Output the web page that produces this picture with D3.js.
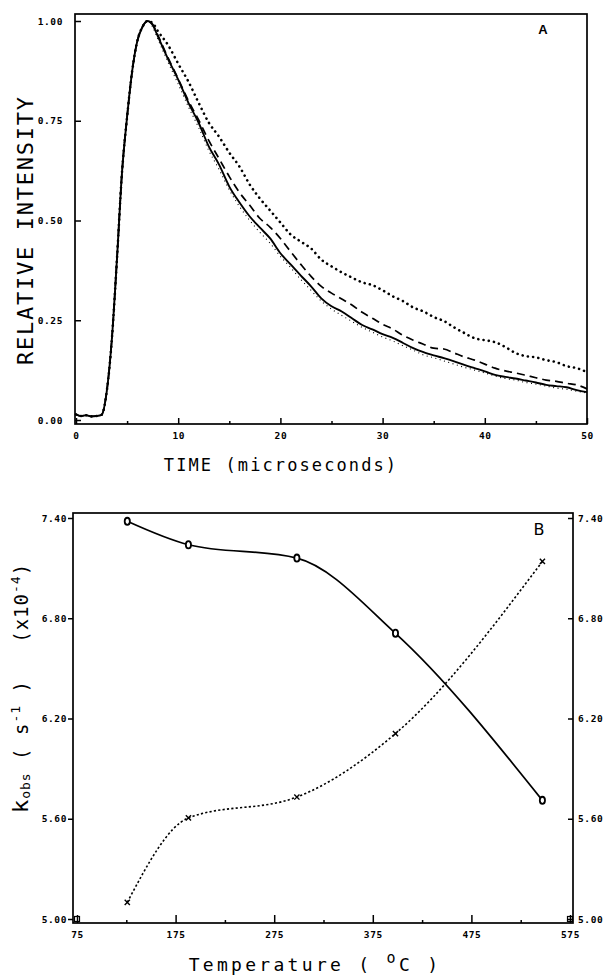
<!DOCTYPE html>
<html><head><meta charset="utf-8">
<script src="https://cdn.jsdelivr.net/npm/d3@7"></script>
<style>body{margin:0;background:#fff}svg{display:block}</style>
</head><body>
<script>
// ---------- Panel A data ----------
const timeUs = [0,0.5,1,1.5,2,2.5,3,3.5,4,4.5,5,5.5,6,6.5,7,7.5,8,
  9,10,11,12,13,14,15,16,17,18,19,20,21,22,23,24,25,26,27,28,29,30,
  31,32,33,34,35,36,37,38,39,40,41,42,43,44,45,46,47,48,49,50];
const solidIntensity = [0.014,0.010,0.012,0.009,0.010,0.013,0.070,0.200,0.400,0.620,0.760,0.875,0.950,0.985,1.000,0.990,0.962,
  0.905,0.853,0.795,0.745,0.685,0.640,0.585,0.545,0.510,0.482,0.455,0.418,0.390,0.362,0.335,0.305,0.285,0.272,0.255,0.238,0.227,0.215,
  0.206,0.193,0.180,0.170,0.162,0.155,0.147,0.138,0.130,0.122,0.113,0.108,0.104,0.099,0.094,0.088,0.085,0.082,0.075,0.070];
const dashedIntensity = [0.014,0.010,0.012,0.009,0.010,0.013,0.070,0.200,0.400,0.620,0.760,0.875,0.950,0.985,1.000,0.992,0.965,
  0.908,0.855,0.800,0.752,0.700,0.655,0.610,0.570,0.538,0.505,0.483,0.455,0.422,0.390,0.360,0.335,0.318,0.303,0.288,0.270,0.255,0.240,
  0.228,0.212,0.200,0.190,0.180,0.178,0.168,0.158,0.150,0.140,0.130,0.123,0.118,0.112,0.106,0.100,0.097,0.092,0.088,0.078];
const dottedIntensity = [0.014,0.010,0.012,0.009,0.010,0.013,0.070,0.200,0.400,0.620,0.760,0.875,0.950,0.985,1.000,0.995,0.975,
  0.940,0.893,0.848,0.795,0.745,0.710,0.670,0.635,0.590,0.555,0.525,0.495,0.465,0.447,0.430,0.402,0.385,0.370,0.357,0.345,0.338,0.325,
  0.310,0.298,0.282,0.272,0.258,0.248,0.232,0.218,0.205,0.200,0.195,0.183,0.168,0.160,0.157,0.150,0.145,0.135,0.130,0.120];
const fineDotIntensity = [0.014,0.010,0.012,0.009,0.010,0.013,0.070,0.200,0.400,0.620,0.760,0.875,0.950,0.985,1.000,0.985,0.955,
  0.897,0.842,0.785,0.733,0.675,0.628,0.577,0.535,0.500,0.470,0.443,0.410,0.382,0.352,0.325,0.298,0.278,0.262,0.247,0.232,0.220,0.208,
  0.198,0.186,0.175,0.163,0.156,0.148,0.140,0.132,0.125,0.118,0.110,0.104,0.100,0.094,0.090,0.085,0.080,0.077,0.072,0.068];
const timeTicks = [0,10,20,30,40,50];
const timeMinorTicks = [5,15,25,35,45];
const intensityTicks = [0,0.25,0.5,0.75,1.0];

// ---------- Panel B data ----------
const temperatureC = [126,188,298,398,547];
const kobsSolid = [7.38,7.24,7.16,6.71,5.71];
const kobsDotted = [5.10,5.605,5.73,6.11,7.14];
const tempTicks = [75,175,275,375,475,575];
const tempMinorTicks = [125,225,325,425,525];
const kobsTicks = [5.00,5.60,6.20,6.80,7.40];
const cornerTemps = [75,575];
const cornerKobs = [5.00,5.00];

const W = 606, H = 975;
const svg = d3.select("body").append("svg").attr("width",W).attr("height",H);
svg.append("rect").attr("width",W).attr("height",H).attr("fill","#fff");

const tickFont = "'DejaVu Sans Mono', monospace";
function styleAxis(g){
  g.select(".domain").remove();
  g.selectAll(".tick line").attr("stroke","#000").attr("stroke-width",1.5);
  g.selectAll(".tick text").attr("fill","#000").attr("font-family",tickFont)
    .attr("font-weight","bold").attr("font-size",9.5).attr("letter-spacing",0.6);
}

// ================= Panel A =================
const A = {left:75,right:587,top:14,bottom:424};
const xA = d3.scaleLinear().domain([0,50]).range([76,587]);
const yA = d3.scaleLinear().domain([0,1]).range([420,21]);

const gA = svg.append("g");
const lineA = vals => d3.line().x((d,i)=>xA(timeUs[i])).y(d=>yA(d)).curve(d3.curveMonotoneX)(vals);

gA.append("path").attr("d",lineA(fineDotIntensity)).attr("fill","none").attr("stroke","#000")
  .attr("stroke-width",1.1).attr("stroke-dasharray","1,3.5");
gA.append("path").attr("d",lineA(dottedIntensity)).attr("fill","none").attr("stroke","#000")
  .attr("stroke-width",2.6).attr("stroke-linecap","round").attr("stroke-dasharray","0.1,5.2");
gA.append("path").attr("d",lineA(dashedIntensity)).attr("fill","none").attr("stroke","#000")
  .attr("stroke-width",1.7).attr("stroke-dasharray","8,5");
gA.append("path").attr("d",lineA(solidIntensity)).attr("fill","none").attr("stroke","#000")
  .attr("stroke-width",1.9);

gA.append("rect").attr("x",A.left).attr("y",A.top).attr("width",A.right-A.left).attr("height",A.bottom-A.top)
  .attr("fill","none").attr("stroke","#000").attr("stroke-width",1.7);

gA.append("g").attr("transform",`translate(${A.left},0)`)
  .call(d3.axisLeft(yA).tickValues(intensityTicks).tickFormat(d3.format(".2f")).tickSize(-6).tickPadding(12))
  .call(styleAxis);
gA.append("g").attr("transform",`translate(0,${A.bottom})`)
  .call(d3.axisBottom(xA).tickValues(timeTicks).tickFormat(d3.format("d")).tickSize(-6).tickPadding(8))
  .call(styleAxis);
gA.append("g").attr("transform",`translate(0,${A.bottom})`)
  .call(d3.axisBottom(xA).tickValues(timeMinorTicks).tickFormat("").tickSize(-3))
  .call(styleAxis);

gA.append("text").attr("x",543).attr("y",34).attr("text-anchor","middle")
  .attr("font-family","'Liberation Sans', Arial, sans-serif").attr("font-weight","bold").attr("font-size",13).text("A");

svg.append("text").attr("transform","translate(33,231) rotate(-90)").attr("text-anchor","middle")
  .attr("font-family",tickFont).attr("font-size",22).attr("textLength",268).attr("lengthAdjust","spacing")
  .text("RELATIVE INTENSITY");
svg.append("text").attr("x",281).attr("y",471).attr("text-anchor","middle")
  .attr("font-family",tickFont).attr("font-size",17).attr("letter-spacing",2.1)
  .text("TIME (microseconds)");

// ================= Panel B =================
const B = {left:73,right:573,top:513,bottom:923};
const xB = d3.scaleLinear().domain([75,575]).range([77,570]);
const yB = d3.scaleLinear().domain([5,7.4]).range([919,518]);
const gB = svg.append("g");

const lineB = vals => d3.line().x((d,i)=>xB(temperatureC[i])).y(d=>yB(d)).curve(d3.curveMonotoneX)(vals);
gB.append("path").attr("d",lineB(kobsDotted)).attr("fill","none").attr("stroke","#000")
  .attr("stroke-width",1.6).attr("stroke-dasharray","2.2,2.2");
gB.append("path").attr("d",lineB(kobsSolid)).attr("fill","none").attr("stroke","#000")
  .attr("stroke-width",1.7);

gB.selectAll(".xm").data(kobsDotted).join("path").attr("class","xm")
  .attr("transform",(d,i)=>`translate(${xB(temperatureC[i])},${yB(d)})`)
  .attr("d","M-2.6,-2.6L2.6,2.6M-2.6,2.6L2.6,-2.6").attr("stroke","#000").attr("stroke-width",1.4);
gB.selectAll(".om").data(kobsSolid).join("ellipse").attr("class","om")
  .attr("cx",(d,i)=>xB(temperatureC[i])).attr("cy",d=>yB(d)).attr("rx",2.6).attr("ry",3.6)
  .attr("fill","#fff").attr("stroke","#000").attr("stroke-width",1.8);

gB.selectAll(".corner").data(cornerKobs).join("rect").attr("class","corner")
  .attr("x",(d,i)=>xB(cornerTemps[i])-2.5).attr("y",d=>yB(d)-2.5).attr("width",5).attr("height",5)
  .attr("fill","#fff").attr("stroke","#000").attr("stroke-width",1.2);

gB.append("rect").attr("x",B.left).attr("y",B.top).attr("width",B.right-B.left).attr("height",B.bottom-B.top)
  .attr("fill","none").attr("stroke","#000").attr("stroke-width",1.7);

gB.append("g").attr("transform",`translate(${B.left},0)`)
  .call(d3.axisLeft(yB).tickValues(kobsTicks).tickFormat(d3.format(".2f")).tickSize(5).tickPadding(1))
  .call(styleAxis);
gB.append("g").attr("transform",`translate(${B.right},0)`)
  .call(d3.axisRight(yB).tickValues(kobsTicks).tickFormat(d3.format(".2f")).tickSize(-5).tickPadding(5))
  .call(styleAxis);
gB.append("g").attr("transform",`translate(0,${B.bottom})`)
  .call(d3.axisBottom(xB).tickValues(tempTicks).tickFormat(d3.format("d")).tickSize(-8).tickPadding(8))
  .call(styleAxis);
gB.append("g").attr("transform",`translate(0,${B.bottom})`)
  .call(d3.axisBottom(xB).tickValues(tempMinorTicks).tickFormat("").tickSize(-3))
  .call(styleAxis);

gB.append("text").attr("x",539).attr("y",535).attr("text-anchor","middle")
  .attr("font-family","'DejaVu Sans', sans-serif").attr("font-size",16).text("B");

// y label B
const yl = svg.append("text").attr("transform","translate(28,688) rotate(-90)").attr("text-anchor","middle")
  .style("white-space","pre")
  .attr("font-family",tickFont).attr("font-size",19).attr("letter-spacing",1).attr("fill","#000");
yl.append("tspan").attr("font-size",22).text("k");
yl.append("tspan").attr("font-size",13).attr("dy",2).text("obs");
yl.append("tspan").attr("dy",-2).text(" ( s");
yl.append("tspan").attr("font-size",13).attr("dy",-8).text("-1");
yl.append("tspan").attr("dy",8).text(" )   (x10");
yl.append("tspan").attr("font-size",13).attr("dy",-8).text("-4");
yl.append("tspan").attr("dy",8).text(")");

// x label B
const xl = svg.append("text").attr("x",315).attr("y",971).attr("text-anchor","middle")
  .style("white-space","pre")
  .attr("font-family",tickFont).attr("font-size",18).attr("letter-spacing",3.3).attr("fill","#000");
xl.append("tspan").text("Temperature ( ");
xl.append("tspan").attr("font-size",15).attr("dy",-8).text("o");
xl.append("tspan").attr("dy",8).text("C )");
</script>
</body></html>
